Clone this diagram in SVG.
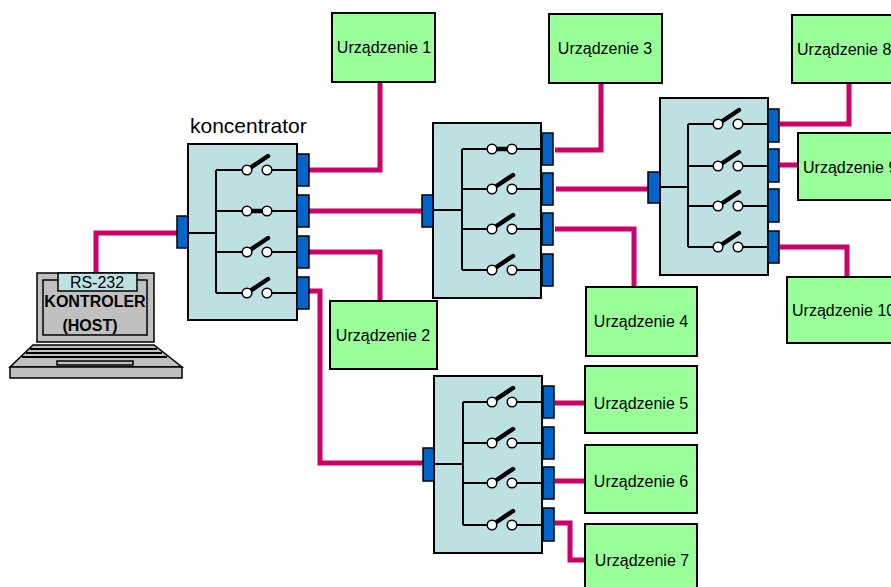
<svg xmlns="http://www.w3.org/2000/svg" width="891" height="587" viewBox="0 0 891 587">
  <style>
    .hub { fill: #bde0e3; stroke: #000; stroke-width: 2; }
    .port { fill: #0064c8; stroke: #000; stroke-width: 1.5; }
    .wire { fill: none; stroke: #000; stroke-width: 2; }
    .dev { fill: #99ff99; stroke: #000; stroke-width: 2; }
    .link { fill: none; stroke: #cc0066; stroke-width: 5; }
    .lbl { font-family: "Liberation Sans", Arial, sans-serif; font-size: 16px; fill: #000; }
    .mid { text-anchor: middle; }
    .pin { fill: #fff; stroke: #000; stroke-width: 1.5; }
    .lever { stroke: #000; stroke-width: 4.5; stroke-linecap: round; }
  </style>
  <defs>
    <!-- open switch: origin at the left contact -->
    <g id="sw-open">
      <line class="lever" x1="0" y1="0" x2="21" y2="-14"/>
      <circle class="pin" cx="0" cy="0" r="4.8"/>
      <circle class="pin" cx="20" cy="0" r="4.8"/>
    </g>
    <!-- closed switch -->
    <g id="sw-closed">
      <line class="lever" x1="0" y1="0" x2="20" y2="0"/>
      <circle class="pin" cx="0" cy="0" r="4.8"/>
      <circle class="pin" cx="20" cy="0" r="4.8"/>
    </g>
  </defs>

  <!-- cabling -->
  <g id="connectors">
    <path class="link" d="M96,274 V233 H177"/>
    <path class="link" d="M309,170 H380 V82"/>
    <path class="link" d="M309,211 H422"/>
    <path class="link" d="M309,252 H380 V301"/>
    <path class="link" d="M309,291 H320 V463 H423"/>
    <path class="link" d="M555,150 H601 V83"/>
    <path class="link" d="M556,189 H648"/>
    <path class="link" d="M555,229 H634 V287"/>
    <path class="link" d="M780,124 H849 V83"/>
    <path class="link" d="M780,165 H798"/>
    <path class="link" d="M780,247 H847 V277"/>
    <path class="link" d="M555,403 H585"/>
    <path class="link" d="M555,481 H585"/>
    <path class="link" d="M555,523 H570 V560 H585"/>
  </g>

  <!-- host laptop -->
  <g id="host">
    <rect x="37" y="273" width="117" height="69" fill="#c0c0c0" stroke="#000" stroke-width="1.5"/>
    <rect x="43" y="280" width="104" height="55" fill="none" stroke="#000" stroke-width="1.5"/>
    <rect x="58" y="273" width="79" height="18" fill="#bde0e3" stroke="#000" stroke-width="1.5"/>
    <text class="lbl mid" x="97" y="288">RS-232</text>
    <text class="lbl mid" x="95" y="307" font-weight="bold">KONTROLER</text>
    <text class="lbl mid" x="90" y="331" font-weight="bold">(HOST)</text>
    <polygon points="33,345 154,345 182,367 10,367" fill="#c0c0c0" stroke="#000" stroke-width="1.5"/>
    <rect x="10" y="367" width="172" height="11" fill="#c0c0c0" stroke="#000" stroke-width="1.5"/>
    <g stroke="#000" stroke-width="2">
      <line x1="30" y1="349" x2="157" y2="349"/>
      <line x1="26" y1="353" x2="162" y2="353"/>
      <line x1="22" y1="357" x2="167" y2="357"/>
    </g>
    <rect x="57" y="361" width="76" height="4" fill="#c0c0c0" stroke="#000" stroke-width="1.5"/>
  </g>

  <!-- concentrator -->
  <g id="hub1">
    <text class="lbl" x="190" y="133" style="font-size:21px">koncentrator</text>
    <rect class="hub" x="188" y="144" width="109" height="176"/>
    <path class="wire" d="M188,233 H216 M216,170 V293 M216,170 H247 M267,170 H297 M216,211 H297 M216,252 H247 M267,252 H297 M216,293 H247 M267,293 H297"/>
    <use href="#sw-open" x="247" y="170"/>
    <use href="#sw-closed" x="247" y="211"/>
    <use href="#sw-open" x="247" y="252"/>
    <use href="#sw-open" x="247" y="293"/>
    <rect class="port" x="177" y="216" width="11" height="32"/>
    <rect class="port" x="297" y="154" width="12" height="32"/>
    <rect class="port" x="297" y="195" width="12" height="32"/>
    <rect class="port" x="297" y="236" width="12" height="32"/>
    <rect class="port" x="297" y="277" width="12" height="32"/>
  </g>

  <g id="hub2">
    <rect class="hub" x="433" y="123" width="108" height="175"/>
    <path class="wire" d="M433,210 H462 M462,149 V270 M462,149 H541 M462,189 H492 M512,189 H541 M462,229 H492 M512,229 H541 M462,270 H492 M512,270 H541"/>
    <use href="#sw-closed" x="492" y="149"/>
    <use href="#sw-open" x="492" y="189"/>
    <use href="#sw-open" x="492" y="229"/>
    <use href="#sw-open" x="492" y="270"/>
    <rect class="port" x="422" y="195" width="11" height="32"/>
    <rect class="port" x="542" y="133" width="11" height="32"/>
    <rect class="port" x="542" y="173" width="11" height="32"/>
    <rect class="port" x="542" y="213" width="11" height="32"/>
    <rect class="port" x="542" y="254" width="11" height="32"/>
  </g>

  <g id="hub3">
    <rect class="hub" x="660" y="98" width="108" height="177"/>
    <path class="wire" d="M660,187 H688 M688,124 V247 M688,124 H718 M738,124 H768 M688,166 H718 M738,166 H768 M688,206 H718 M738,206 H768 M688,247 H718 M738,247 H768"/>
    <use href="#sw-open" x="718" y="124"/>
    <use href="#sw-open" x="718" y="166"/>
    <use href="#sw-open" x="718" y="206"/>
    <use href="#sw-open" x="718" y="247"/>
    <rect class="port" x="648" y="172" width="12" height="31"/>
    <rect class="port" x="768" y="109" width="11" height="33"/>
    <rect class="port" x="768" y="149" width="11" height="33"/>
    <rect class="port" x="768" y="189" width="11" height="33"/>
    <rect class="port" x="768" y="231" width="11" height="32"/>
  </g>

  <g id="hub4">
    <rect class="hub" x="434" y="376" width="108" height="177"/>
    <path class="wire" d="M434,464 H463 M463,402 V525 M463,402 H492 M513,402 H542 M463,443 H492 M513,443 H542 M463,483 H492 M513,483 H542 M463,525 H492 M513,525 H542"/>
    <use href="#sw-open" x="492" y="402"/>
    <use href="#sw-open" x="492" y="443"/>
    <use href="#sw-open" x="492" y="483"/>
    <use href="#sw-open" x="492" y="525"/>
    <rect class="port" x="423" y="448" width="11" height="33"/>
    <rect class="port" x="543" y="386" width="11" height="32"/>
    <rect class="port" x="543" y="427" width="11" height="32"/>
    <rect class="port" x="543" y="467" width="11" height="32"/>
    <rect class="port" x="543" y="508" width="11" height="33"/>
  </g>

  <!-- end devices -->
  <g id="dev1"><rect class="dev" x="332" y="13" width="103" height="69"/><text class="lbl mid" x="384" y="53">Urządzenie 1</text></g>
  <g id="dev2"><rect class="dev" x="330" y="301" width="107" height="68"/><text class="lbl mid" x="383" y="341">Urządzenie 2</text></g>
  <g id="dev3"><rect class="dev" x="549" y="14" width="113" height="69"/><text class="lbl mid" x="605" y="54">Urządzenie 3</text></g>
  <g id="dev4"><rect class="dev" x="586" y="287" width="111" height="69"/><text class="lbl mid" x="641" y="327">Urządzenie 4</text></g>
  <g id="dev5"><rect class="dev" x="585" y="366" width="112" height="67"/><text class="lbl mid" x="641" y="409">Urządzenie 5</text></g>
  <g id="dev6"><rect class="dev" x="585" y="445" width="112" height="68"/><text class="lbl mid" x="641" y="487">Urządzenie 6</text></g>
  <g id="dev7"><rect class="dev" x="585" y="524" width="112" height="70"/><text class="lbl mid" x="642" y="566">Urządzenie 7</text></g>
  <g id="dev8"><rect class="dev" x="792" y="15" width="110" height="68"/><text class="lbl" x="797" y="55">Urządzenie 8</text></g>
  <g id="dev9"><rect class="dev" x="798" y="133" width="100" height="67"/><text class="lbl" x="803" y="173">Urządzenie 9</text></g>
  <g id="dev10"><rect class="dev" x="787" y="277" width="110" height="66"/><text class="lbl" x="792" y="316">Urządzenie 10</text></g>
</svg>
